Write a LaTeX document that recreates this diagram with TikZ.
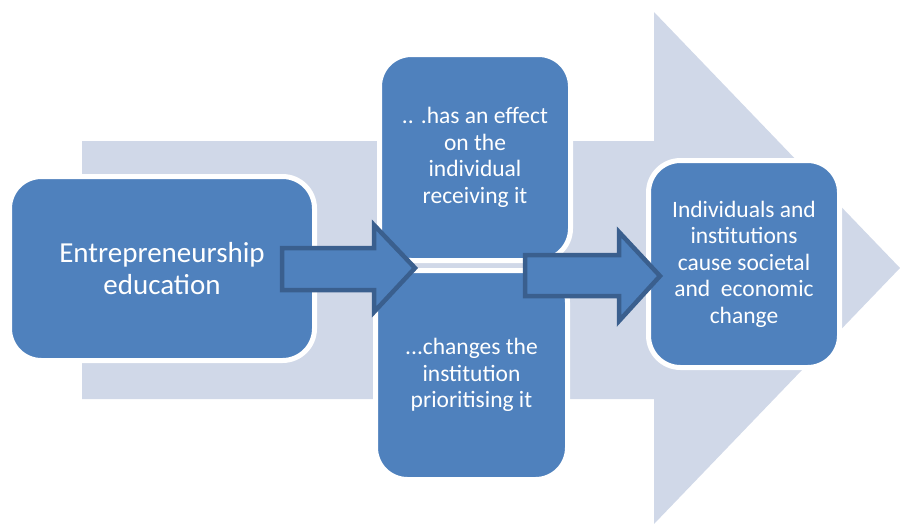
\documentclass[tikz,border=0pt]{standalone}
\usepackage{fontspec}
\setmainfont{Carlito}
\definecolor{boxblue}{HTML}{4F81BD}
\definecolor{arrowedge}{HTML}{3A5F8E}
\definecolor{bgarrow}{HTML}{D0D8E8}
\tikzset{
  stagebox/.style={draw=white, line width=5pt, fill=boxblue, rounded corners=32pt,
    text=white, align=center, inner sep=0pt, font=\fontsize{23.5}{26.5}\selectfont},
  blockarrow/.style={draw=arrowedge, line width=4.5pt, fill=boxblue, line join=miter},
}
\begin{document}
\begin{tikzpicture}[x=1pt,y=-1pt]
\useasboundingbox (0,0) rectangle (900,523);
% large background arrow
\fill[bgarrow] (82,141) -- (654,141) -- (654,12) -- (900,268) -- (654,524) -- (654,399) -- (82,399) -- cycle;
% boxes
\node[stagebox, minimum width=305pt, minimum height=184pt, font=\fontsize{29}{32}\selectfont] (edu) at (162,268.5) {Entrepreneurship\\education};
\node[stagebox, minimum width=191pt, minimum height=206pt] (indiv) at (475,157.5) {.. .has an effect\\on the\\individual\\receiving it};
\node[stagebox, minimum width=192pt, minimum height=209pt] (inst) at (471.5,375) {...changes the\\institution\\prioritising it};
\node[stagebox, minimum width=191pt, minimum height=207pt] (change) at (744,264) {Individuals and\\institutions\\cause societal\\and\ \ economic\\change};
% block arrows
\draw[blockarrow] (282,248) -- (374,248) -- (374,225) -- (415,268) -- (374,312) -- (374,290) -- (282,290) -- cycle;
\draw[blockarrow] (525,255) -- (619,255) -- (619,232) -- (660,276) -- (619,321) -- (619,296) -- (525,296) -- cycle;
\end{tikzpicture}
\end{document}
